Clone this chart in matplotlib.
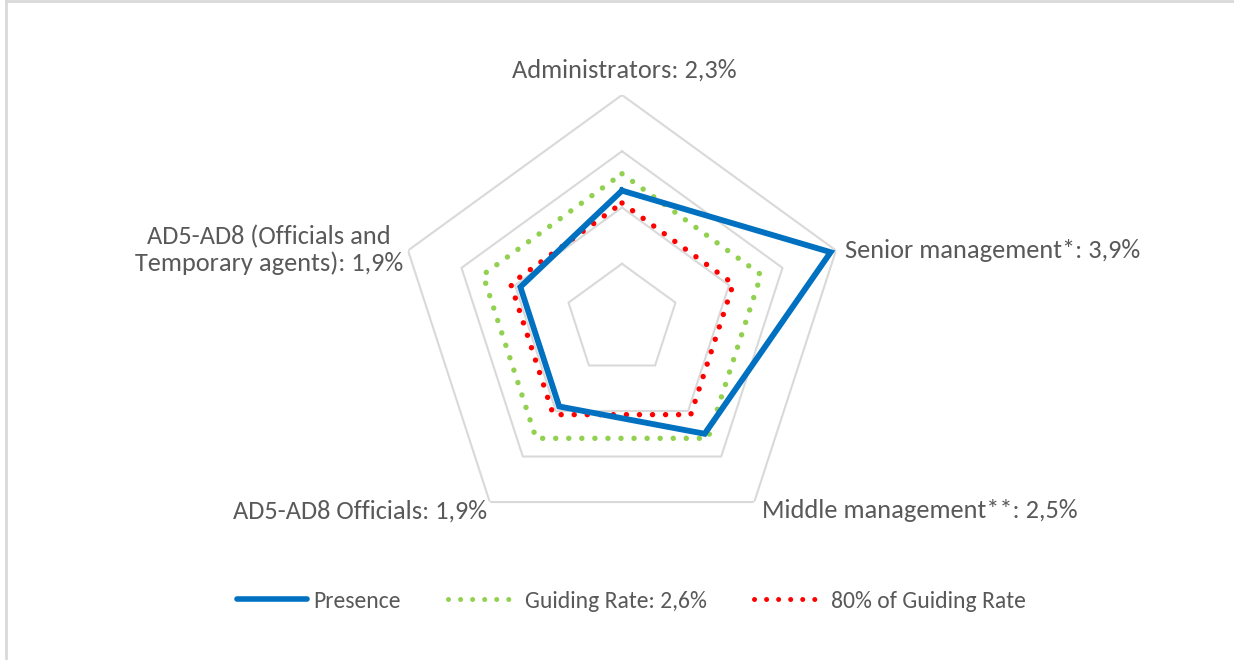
import numpy as np
import matplotlib
matplotlib.use('Agg')
import matplotlib.pyplot as plt
from matplotlib import font_manager
from matplotlib.lines import Line2D

# pick a Calibri-like font if we have one
names = set(f.name for f in font_manager.fontManager.ttflist)
for fam in ['Carlito', 'Lato', 'Open Sans', 'DejaVu Sans']:
    if fam in names:
        plt.rcParams['font.family'] = fam
        break

# data
categories = ['Administrators', 'Senior management*', 'Middle management**',
              'AD5-AD8 Officials', 'AD5-AD8 (Officials and\nTemporary agents)']
presence = [2.3, 3.9, 2.5, 1.9, 1.9]
guiding = [2.6, 2.6, 2.6, 2.6, 2.6]
guiding80 = [2.08, 2.08, 2.08, 2.08, 2.08]
grid_levels = [1, 2, 3, 4]
legend_labels = ['Presence', 'Guiding Rate: 2,6%', '80% of Guiding Rate']

W, H = 1234, 660
fig = plt.figure(figsize=(W / 100, H / 100), dpi=100)

cx, cy, R = 622, 320, 225
ax = fig.add_axes([(cx - R) / W, (H - cy - R) / H, 2 * R / W, 2 * R / H],
                  projection='polar')
ax.set_theta_zero_location('N')
ax.set_theta_direction(-1)
ax.set_ylim(0, 4)
ax.axis('off')

n = len(categories)
theta = np.linspace(0, 2 * np.pi, n, endpoint=False)
tc = np.append(theta, theta[0])

for lv in grid_levels:
    ax.plot(tc, [lv] * (n + 1), color='#d9d9d9', lw=1.5, zorder=1)

def close(v):
    return list(v) + [v[0]]

dots = (0, (0.01, 2.4))
ax.plot(tc, close(guiding), color='#92d050', lw=3.9, linestyle=dots,
        dash_capstyle='round', zorder=2)
ax.plot(tc, close(guiding80), color='#ff0000', lw=3.9, linestyle=dots,
        dash_capstyle='round', zorder=3)
ax.plot(tc, close(presence), color='#0070c0', lw=4.2, solid_joinstyle='miter',
        zorder=4)

txt = dict(color='#595959', fontsize=19)
labels = [c + ': ' + ('%.1f' % v).replace('.', ',') + '%' for c, v in zip(categories, presence)]
fig.text(624 / W, 1 - 70 / H, labels[0], ha='center', va='center', **txt)
fig.text(845 / W, 1 - 250 / H, labels[1], ha='left', va='center', **txt)
fig.text(762 / W, 1 - 511 / H, labels[2], ha='left', va='center', **txt)
fig.text(487 / W, 1 - 511 / H, labels[3], ha='right', va='center', **txt)
fig.text(403 / W, 1 - 250 / H, labels[4], ha='right', va='center',
         multialignment='center', linespacing=1.15, **txt)

handles = [
    Line2D([], [], color='#0070c0', lw=4.0, solid_capstyle='round'),
    Line2D([], [], color='#92d050', lw=3.6, linestyle=(0, (0.01, 2.4)), dash_capstyle='round'),
    Line2D([], [], color='#ff0000', lw=3.6, linestyle=(0, (0.01, 2.4)), dash_capstyle='round'),
]
leg = fig.legend(handles, legend_labels, loc='center', bbox_to_anchor=(631 / W, 1 - 601 / H),
                 ncol=3, frameon=False, fontsize=17, handlelength=3.0, handletextpad=0.25,
                 columnspacing=2.0)
for t in leg.get_texts():
    t.set_color('#595959')

# chart border (top and left edges visible)
fig.add_artist(Line2D([6 / W, 1], [1 - 1 / H, 1 - 1 / H], color='#d9d9d9', lw=2))
fig.add_artist(Line2D([6 / W, 6 / W], [0, 1 - 1 / H], color='#d9d9d9', lw=2))

fig.savefig('out.png', dpi=100)
